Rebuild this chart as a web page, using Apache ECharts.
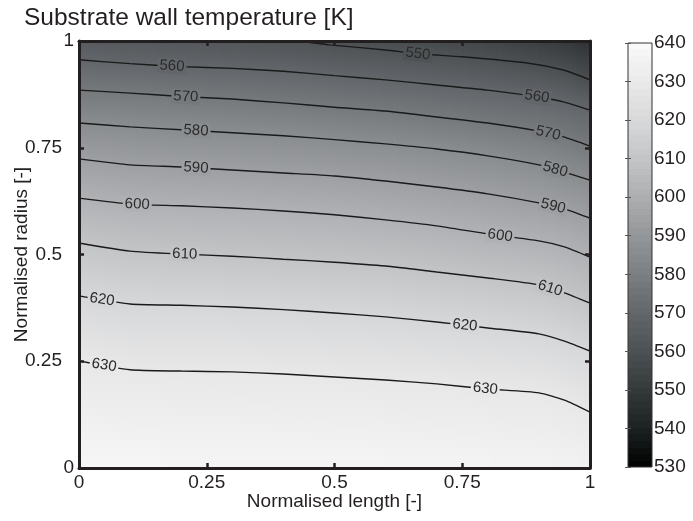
<!DOCTYPE html>
<html><head><meta charset="utf-8">
<script src="https://cdn.jsdelivr.net/npm/echarts@6/dist/echarts.min.js"></script>
<style>html,body{margin:0;padding:0;background:#fff}#c{width:693px;height:521px}</style>
</head><body><div id="c"></div>
<script>
// ---- data (normalised length / radius) ----
const xs = [0, 0.1, 0.2, 0.3, 0.4, 0.5, 0.6, 0.7, 0.8, 0.9, 0.95, 1.0];
const c560 = [0.956,0.947,0.940,0.936,0.929,0.919,0.909,0.897,0.885,0.869,0.857,0.838];
const c570 = [0.885,0.878,0.870,0.864,0.855,0.845,0.836,0.822,0.808,0.789,0.775,0.754];
const c580 = [0.808,0.799,0.792,0.785,0.778,0.769,0.759,0.747,0.731,0.710,0.693,0.674];
const c590 = [0.724,0.710,0.705,0.698,0.691,0.684,0.672,0.658,0.642,0.621,0.607,0.585];
const c600 = [0.632,0.618,0.614,0.609,0.602,0.593,0.581,0.567,0.548,0.532,0.518,0.494];
const c610 = [0.527,0.508,0.501,0.496,0.489,0.482,0.473,0.459,0.445,0.429,0.410,0.386];
const c620 = [0.403,0.384,0.381,0.377,0.371,0.363,0.354,0.342,0.328,0.314,0.297,0.274];
const c630 = [0.251,0.230,0.227,0.225,0.220,0.213,0.206,0.197,0.185,0.176,0.159,0.131];
// the 550 K contour only enters the frame through the top edge
const x550 = [0.43, 0.49, 0.6, 0.663, 0.75, 0.88, 0.948, 1.0];
const y550 = [1.0, 0.991, 0.979, 0.970, 0.963, 0.948, 0.932, 0.909];
// estimated temperatures along the top (radius 1) and bottom (radius 0) edges
const topT    = [554, 553.5, 553, 552, 550.8, 549.3, 547.8, 546.3, 544.5, 541.5, 539.5, 536];
const bottomT = [638.5, 638.5, 638.4, 638.3, 638.2, 638, 637.8, 637.5, 637.2, 636.8, 636.4, 635.5];
// inline contour labels: level and normalised length position
const labelLevel = [550, 560, 560, 570, 570, 580, 580, 590, 590, 600, 600, 610, 610, 620, 620, 630, 630];
const labelX     = [0.663, 0.182, 0.896, 0.209, 0.918, 0.229, 0.932, 0.229, 0.928, 0.114, 0.824, 0.207, 0.922, 0.045, 0.755, 0.049, 0.795];
// axes / colour bar
const cbMin = 530, cbMax = 640, cbStep = 10;
const titleText = 'Substrate wall temperature [K]';
const xName = 'Normalised length [-]';
const yName = 'Normalised radius [-]';

// ---- colour maps (gray) : colour bar as drawn, and the lighter plot fill ----
const barStops = [[530,[0,0,0]],[540,[28,33,33]],[550,[52,57,58]],[560,[76,81,83]],[570,[99,103,106]],
  [580,[123,127,130]],[590,[148,151,153]],[600,[172,174,176]],[610,[195,197,198]],[620,[216,217,218]],
  [630,[234,234,235]],[640,[250,250,250]]];
const fillStops = [[530,[30,34,36]],[540,[55,59,61]],[550,[78,82,85]],[560,[98,101,105]],[570,[118,121,124]],
  [580,[138,141,144]],[590,[157,159,162]],[600,[176,177,180]],[610,[195,196,198]],[620,[214,215,216]],
  [630,[232,232,233]],[640,[248,248,248]]];
function mapColor(stops, t){
  if (t <= stops[0][0]) return 'rgb(' + stops[0][1].join(',') + ')';
  for (let i = 0; i < stops.length - 1; i++) {
    const a = stops[i], b = stops[i+1];
    if (t <= b[0]) {
      const f = (t - a[0]) / (b[0] - a[0]);
      return 'rgb(' + a[1].map((v, k) => Math.round(v + (b[1][k] - v) * f)).join(',') + ')';
    }
  }
  return 'rgb(' + stops[stops.length-1][1].join(',') + ')';
}
const fillColor = t => mapColor(fillStops, t);
const barColor = t => mapColor(barStops, t);

const lines = [
  {level:550, xs:x550, ys:y550},
  {level:560, xs:xs, ys:c560}, {level:570, xs:xs, ys:c570}, {level:580, xs:xs, ys:c580},
  {level:590, xs:xs, ys:c590}, {level:600, xs:xs, ys:c600}, {level:610, xs:xs, ys:c610},
  {level:620, xs:xs, ys:c620}, {level:630, xs:xs, ys:c630}
];
const bounds = [{ys: xs.map(() => 1), ts: topT}];
lines.slice(1).forEach(l => bounds.push({ys: l.ys, ts: xs.map(() => l.level)}));
bounds.push({ys: xs.map(() => 0), ts: bottomT});

const fillData = [];
for (let b = 0; b < bounds.length - 1; b++) for (let j = 0; j < xs.length - 1; j++) fillData.push([b, j]);

function segAt(line, x){
  let i = 0;
  while (i < line.xs.length - 2 && x > line.xs[i+1]) i++;
  return i;
}
const lerp = (a, b, u) => a + (b - a) * u;
const lerpP = (a, b, u) => [lerp(a[0], b[0], u), lerp(a[1], b[1], u)];

const FONT = '"Liberation Sans", Arial, Helvetica, sans-serif';
const INK = '#231f20';
const FS = 19;

function frameAxis(extra){
  return Object.assign({
    type: 'value', min: 0, max: 1, interval: 0.25, z: 10,
    axisLine: {show: true, onZero: false, lineStyle: {color: INK, width: 3}},
    axisTick: {show: true, inside: true, length: 5, lineStyle: {color: INK, width: 2.5}},
    splitLine: {show: false}
  }, extra);
}

const option = {
  animation: false,
  backgroundColor: '#fff',
  textStyle: {fontFamily: FONT},
  title: {text: titleText, left: 19, top: 1, textStyle: {fontSize: 24.5, fontWeight: 'normal', color: INK, fontFamily: FONT}},
  grid: [
    {left: 79, top: 41, width: 511, height: 427, containLabel: false, outerBoundsMode: 'none'},
    {left: 628, top: 43, width: 24, height: 424, containLabel: false, outerBoundsMode: 'none'}
  ],
  xAxis: [
    frameAxis({gridIndex: 0, position: 'bottom', name: xName, nameLocation: 'middle', nameGap: 24, nameMoveOverlap: false,
      nameTextStyle: {fontSize: FS, color: INK}, axisLabel: {fontSize: FS, color: INK, margin: 5}}),
    frameAxis({gridIndex: 0, position: 'top', axisLabel: {show: false}}),
    {gridIndex: 1, type: 'value', min: 0, max: 1, show: false}
  ],
  yAxis: [
    frameAxis({gridIndex: 0, position: 'left', name: yName, nameLocation: 'middle', nameGap: 48, nameMoveOverlap: false,
      nameTextStyle: {fontSize: FS, color: INK},
      axisLabel: {fontSize: FS, color: INK, margin: 5,
        formatter: v => (v === 0 || v === 1) ? String(v) : '{m|' + v + '}',
        rich: {m: {fontSize: FS, color: INK, padding: [0, 12, 0, 0]}}}}),
    frameAxis({gridIndex: 0, position: 'right', axisLabel: {show: false}}),
    {gridIndex: 1, type: 'value', min: cbMin, max: cbMax, interval: cbStep, position: 'right', z: 10,
     axisLine: {show: false}, axisTick: {show: true, inside: true, length: 3, lineStyle: {color: '#555', width: 1}},
     axisLabel: {fontSize: FS, color: INK, margin: 2}, splitLine: {show: false}},
    {gridIndex: 1, type: 'value', min: cbMin, max: cbMax, interval: cbStep, position: 'left', z: 10,
     axisLine: {show: false}, axisTick: {show: true, inside: true, length: 3, lineStyle: {color: '#555', width: 1}},
     axisLabel: {show: false}, splitLine: {show: false}}
  ],
  series: [
    {
      type: 'custom', xAxisIndex: 0, yAxisIndex: 0, z: 1, silent: true, clip: true,
      data: fillData,
      renderItem: function(params, api){
        const b = api.value(0), j = api.value(1);
        const T = bounds[b], B = bounds[b+1];
        const p1 = api.coord([xs[j], T.ys[j]]), p2 = api.coord([xs[j+1], T.ys[j+1]]);
        const p3 = api.coord([xs[j+1], B.ys[j+1]]), p4 = api.coord([xs[j], B.ys[j]]);
        const n = Math.max(1, Math.ceil((p2[0] - p1[0]) / 3));
        const children = [];
        for (let s = 0; s < n; s++) {
          const u0 = s / n, u1 = (s + 1) / n, um = (u0 + u1) / 2;
          const a = lerpP(p1, p2, u0), bb = lerpP(p1, p2, u1), c = lerpP(p4, p3, u1), d = lerpP(p4, p3, u0);
          bb[0] += 0.8; c[0] += 0.8; a[1] -= 0.6; bb[1] -= 0.6; c[1] += 0.6; d[1] += 0.6;
          const tm = lerpP(p1, p2, um), bm = lerpP(p4, p3, um);
          const tT = lerp(T.ts[j], T.ts[j+1], um), tB = lerp(B.ts[j], B.ts[j+1], um);
          const grad = new echarts.graphic.LinearGradient(tm[0], tm[1], bm[0], bm[1],
            [{offset: 0, color: fillColor(tT)}, {offset: 1, color: fillColor(tB)}], true);
          children.push({type: 'polygon', shape: {points: [a, bb, c, d]}, style: {fill: grad}});
        }
        return {type: 'group', children: children};
      }
    }
  ].concat(lines.map(l => ({
    type: 'line', xAxisIndex: 0, yAxisIndex: 0, z: 3, silent: true, symbol: 'none', smooth: 0.2,
    data: l.xs.map((x, i) => [x, l.ys[i]]),
    lineStyle: {color: '#1a1a1a', width: 1.4}
  }))).concat([
    {
      type: 'custom', xAxisIndex: 0, yAxisIndex: 0, z: 4, silent: true,
      data: labelX.map((x, i) => [x, labelLevel[i]]),
      renderItem: function(params, api){
        const x = api.value(0), lv = api.value(1);
        const line = lines.find(l => l.level === lv);
        const i = segAt(line, x);
        const f = (x - line.xs[i]) / (line.xs[i+1] - line.xs[i]);
        const y = line.ys[i] + (line.ys[i+1] - line.ys[i]) * f;
        const p = api.coord([x, y]);
        const a = api.coord([line.xs[i], line.ys[i]]), b = api.coord([line.xs[i+1], line.ys[i+1]]);
        const ang = Math.atan2(-(b[1] - a[1]), b[0] - a[0]);
        return {type: 'text', x: p[0], y: p[1], rotation: ang,
          style: {text: String(lv), align: 'center', verticalAlign: 'middle', fill: '#2b2b2b',
            font: '15px ' + FONT, backgroundColor: fillColor(lv), padding: [0, 2, 0, 2]}};
      }
    },
    {
      type: 'custom', xAxisIndex: 2, yAxisIndex: 2, z: 1, silent: true,
      data: [[0, cbMin, 1, cbMax]],
      renderItem: function(params, api){
        const p0 = api.coord([api.value(0), api.value(3)]);
        const p1 = api.coord([api.value(2), api.value(1)]);
        const n = 64, stops = [];
        for (let k = 0; k < n; k++) {
          const c = barColor(cbMin + (k + 0.5) * (cbMax - cbMin) / n);
          stops.push({offset: k / n, color: c}, {offset: (k + 1) / n, color: c});
        }
        return {type: 'rect', shape: {x: p0[0], y: p0[1], width: p1[0] - p0[0], height: p1[1] - p0[1]},
          style: {fill: new echarts.graphic.LinearGradient(0, 1, 0, 0, stops), stroke: '#333', lineWidth: 1}};
      }
    }
  ])
};
const chart = echarts.init(document.getElementById('c'));
chart.setOption(option);
</script>
</body></html>
